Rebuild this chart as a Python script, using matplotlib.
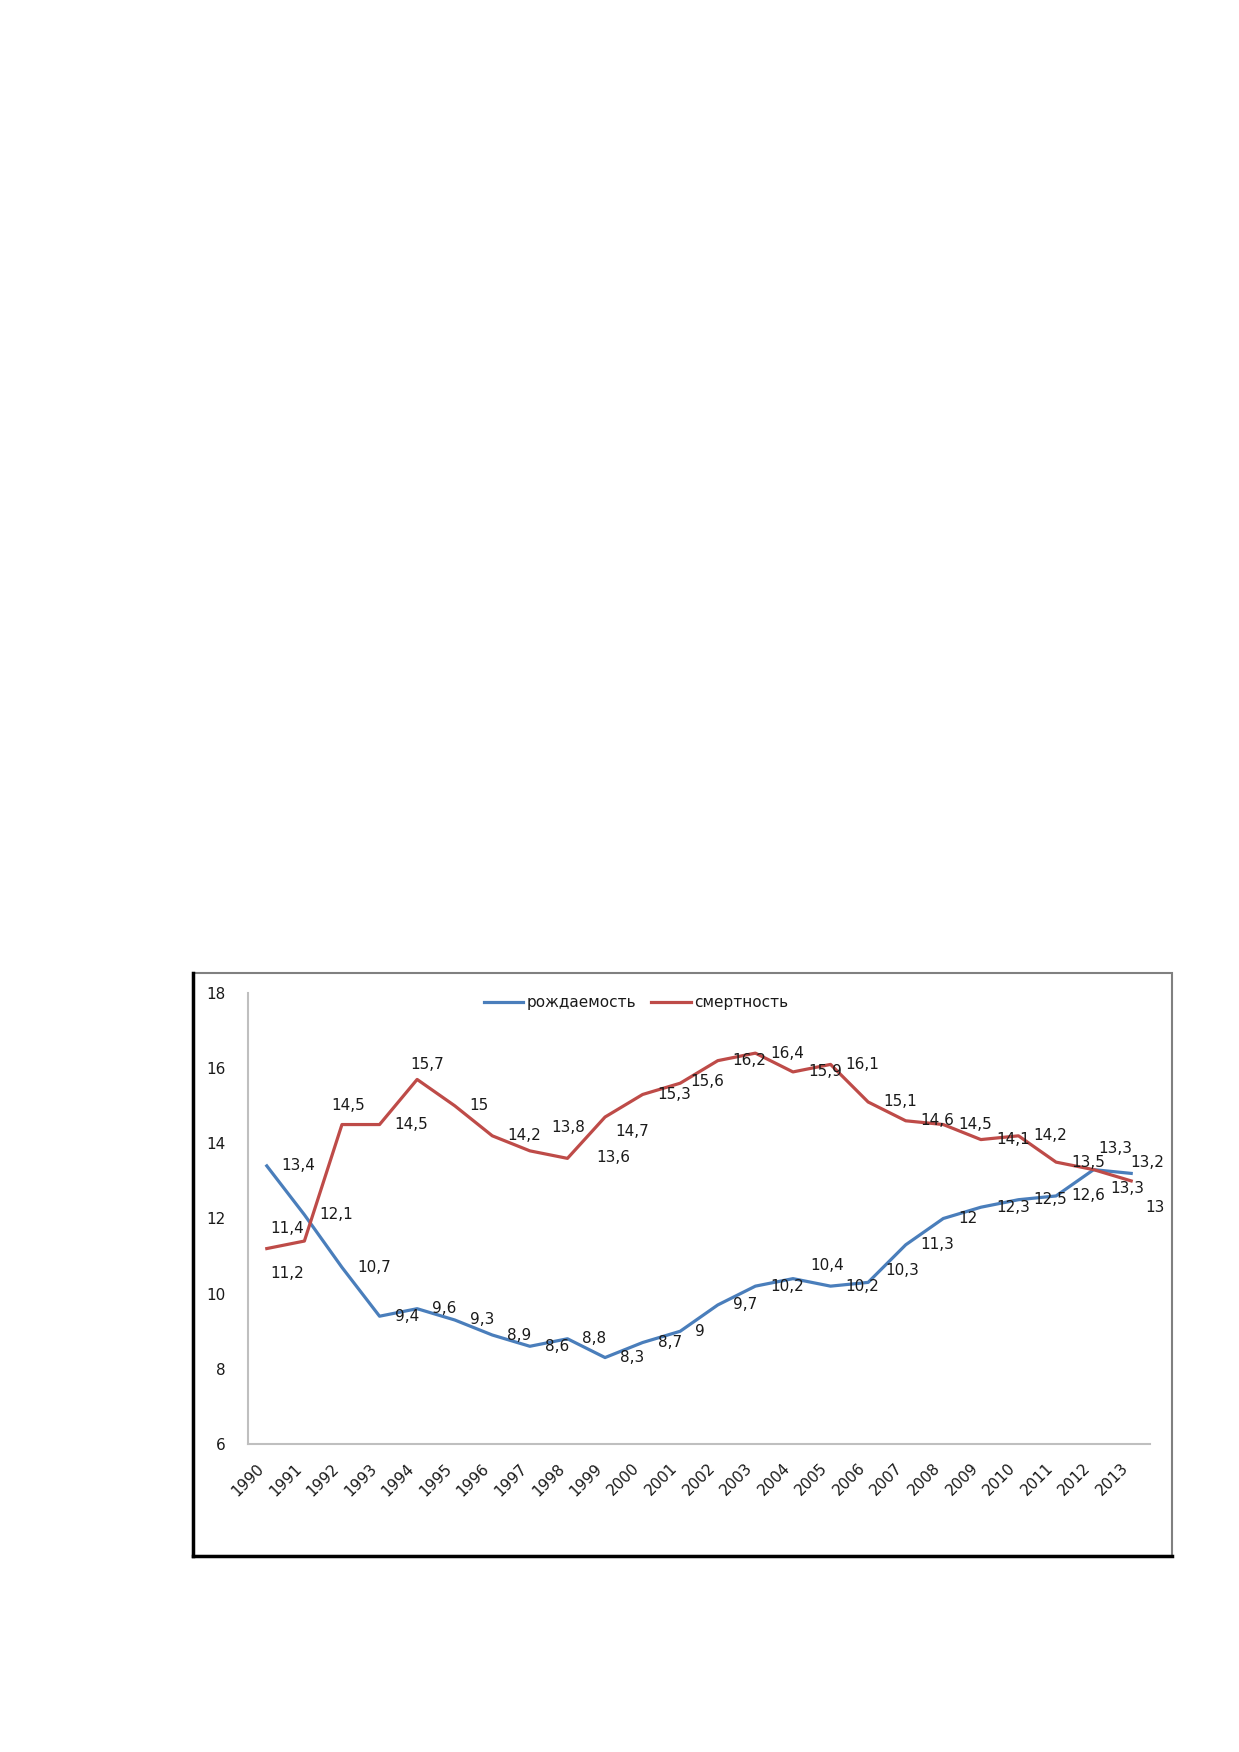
import matplotlib
matplotlib.use('Agg')
import matplotlib.pyplot as plt
from matplotlib.lines import Line2D
from matplotlib.patches import Rectangle

years = [str(y) for y in range(1990, 2014)]
birth = [13.4, 12.1, 10.7, 9.4, 9.6, 9.3, 8.9, 8.6, 8.8, 8.3, 8.7, 9.0,
         9.7, 10.2, 10.4, 10.2, 10.3, 11.3, 12.0, 12.3, 12.5, 12.6, 13.3, 13.2]
death = [11.2, 11.4, 14.5, 14.5, 15.7, 15.0, 14.2, 13.8, 13.6, 14.7, 15.3, 15.6,
         16.2, 16.4, 15.9, 16.1, 15.1, 14.6, 14.5, 14.1, 14.2, 13.5, 13.3, 13.0]
yticks = [6, 8, 10, 12, 14, 16, 18]

# label offsets in pixels (left edge, vertical), default right of point
default_off = (15, 0)
birth_off = {14: (17, -13), 16: (17, -12), 22: (17, 19), 23: (-1, -11)}
death_off = {0: (4, 25), 1: (-34, -13), 2: (-11, -19), 4: (-7, -15),
             7: (21, -23), 8: (29, -1), 9: (10, 14), 11: (10, -2),
             22: (5, -21), 23: (14, 27)}

blue = '#4A7EBB'
red = '#BE4B48'
tc = '#1a1a1a'

fig = plt.figure(figsize=(12.39, 17.52), dpi=100)
W, H = 1239, 1752

# outer chart frame
fig.patches.append(Rectangle((193 / W, 1 - 1556 / H), (1172 - 193) / W, (1556 - 973) / H,
                             transform=fig.transFigure, fill=False, ec='#808080', lw=1.5))
fig.lines.append(Line2D([193 / W, 193 / W], [1 - 973 / H, 1 - 1556 / H],
                        transform=fig.transFigure, color='black', lw=2.5))
fig.lines.append(Line2D([193 / W, 1172 / W], [1 - 1556 / H, 1 - 1556 / H],
                        transform=fig.transFigure, color='black', lw=2.5))

ax = fig.add_axes([248 / W, 1 - 1444 / H, 902 / W, (1444 - 993) / H])
x = list(range(len(years)))
ax.plot(x, birth, color=blue, lw=2.3, label='рождаемость')
ax.plot(x, death, color=red, lw=2.3, label='смертность')

fs = 11
for i, v in enumerate(birth):
    dx, dy = birth_off.get(i, default_off)
    ax.annotate(f'{v:g}'.replace('.', ','), (i, v), xytext=(dx, -dy),
                textcoords='offset pixels', ha='left', va='center', fontsize=fs, color=tc)
for i, v in enumerate(death):
    dx, dy = death_off.get(i, default_off)
    ax.annotate(f'{v:g}'.replace('.', ','), (i, v), xytext=(dx, -dy),
                textcoords='offset pixels', ha='left', va='center', fontsize=fs, color=tc)

ax.set_xlim(-0.5, 23.5)
ax.set_ylim(6, 18)
ax.set_yticks(yticks)
ax.set_yticklabels([str(t) for t in yticks], fontsize=fs, color=tc)
ax.set_xticks(x)
ax.set_xticklabels(years, rotation=45, ha='right', va='top', fontsize=fs, color=tc)
ax.tick_params(axis='both', length=0)
ax.tick_params(axis='y', pad=16)
ax.tick_params(axis='x', pad=12)
for s in ['top', 'right']:
    ax.spines[s].set_visible(False)
ax.spines['left'].set_color('#BFBFBF')
ax.spines['bottom'].set_color('#BFBFBF')
ax.spines['left'].set_linewidth(1.5)
ax.spines['bottom'].set_linewidth(1.5)

leg = ax.legend(loc='center', bbox_to_anchor=(0.43, 0.978), ncol=2, frameon=False,
                fontsize=fs, handlelength=2.6, handletextpad=0.2, columnspacing=1.0)
for t in leg.get_texts():
    t.set_color(tc)

fig.savefig('out.png', dpi=100)
